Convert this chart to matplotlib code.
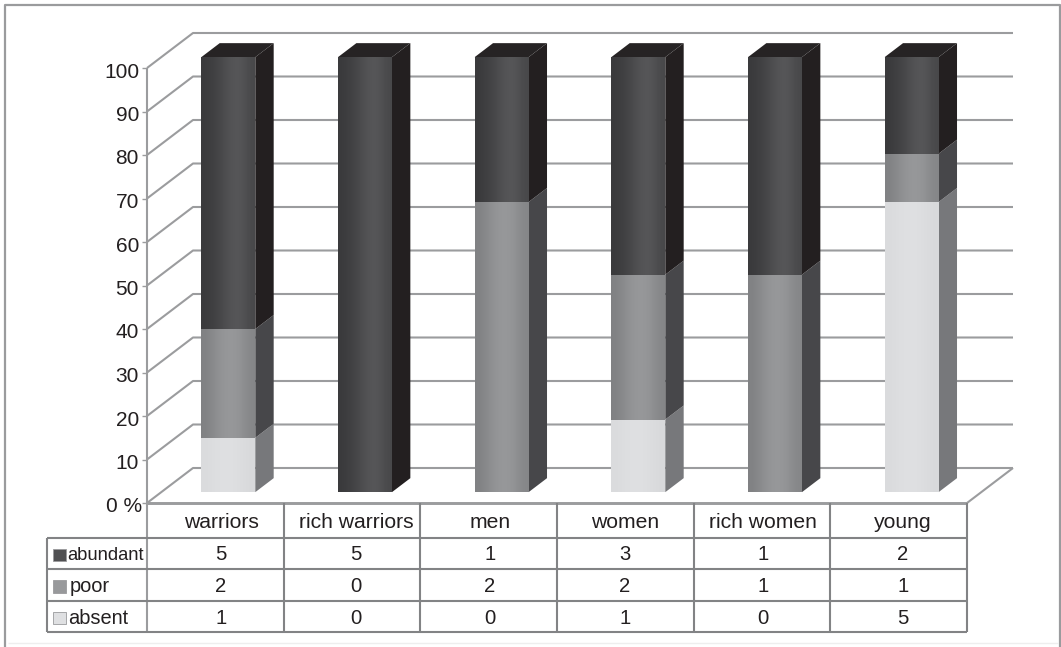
import numpy as np
import matplotlib
matplotlib.use("Agg")
import matplotlib.pyplot as plt
from matplotlib.colors import to_rgb
from matplotlib.patches import Polygon
from matplotlib.transforms import Affine2D

plt.rcParams['font.family'] = ['Liberation Sans', 'DejaVu Sans']

# ---- data ----
categories = ['warriors', 'rich warriors', 'men', 'women', 'rich women', 'young']
series_names = ['abundant', 'poor', 'absent']
table_abundant = [5, 5, 1, 3, 1, 2]
table_poor = [2, 0, 2, 2, 1, 1]
table_absent = [1, 0, 0, 1, 0, 5]
# bar heights (percent)
pct_absent = [12.5, 0, 0, 16.7, 0, 66.7]
pct_poor = [25.0, 0, 66.7, 33.3, 50.0, 11.1]
pct_abundant = [62.5, 100.0, 33.3, 50.0, 50.0, 22.2]
y_ticks = [0, 10, 20, 30, 40, 50, 60, 70, 80, 90, 100]

# ---- style ----
W, H = 1061, 647
INK = '#231f20'
GRID = '#9b9c9e'
TABLE = '#828385'
front_stops = {
    'abundant': ['#3a3a3c', '#444446', '#505052', '#5a5a5c', '#48484a'],
    'poor': ['#808183', '#8f9092', '#98999b', '#959698', '#858688'],
    'absent': ['#dadbdd', '#dedfe1', '#dfe0e2', '#dddee0', '#d8d9db'],
}
side_col = {'abundant': '#231f20', 'poor': '#47474a', 'absent': '#77787b'}
top_col = {'abundant': '#262324', 'poor': '#5c5c5e', 'absent': '#b0b1b3'}

fig = plt.figure(figsize=(W / 100, H / 100), dpi=100, facecolor='white')
L, R, B, T = 147, 967, 503, 68
ax = fig.add_axes([L / W, 1 - B / H, (R - L) / W, (B - T) / H])
ax.set_xlim(0, 6)
ax.set_ylim(0, 100)
ax.axis('off')

DX, DY = 46.0, 35.0  # screen offset of the full chart depth
ux = DX * 6 / (R - L)
uy = DY * 100 / (B - T)


def proj(x, y, f):
    """data position at depth fraction f"""
    return (x + f * ux, y + f * uy)


LW = 1.5
kw = dict(clip_on=False, solid_capstyle='butt')

# back wall & left wall gridlines, floor
for v in y_ticks:
    p0, p1, p2 = proj(0, v, 0), proj(0, v, 1), proj(6, v, 1)
    ax.plot([p0[0], p1[0], p2[0]], [p0[1], p1[1], p2[1]], color=GRID, lw=LW, zorder=1, **kw)
pr0, pr1 = proj(6, 0, 0), proj(6, 0, 1)
ax.plot([pr0[0], pr1[0]], [pr0[1], pr1[1]], color=GRID, lw=LW, zorder=1, **kw)
ax.plot([0, 6], [0, 0], color=GRID, lw=LW + 0.4, zorder=1, **kw)

# bars
F0, F1 = 0.31, 0.71
BW = 0.395
xs = np.arange(len(categories)) + 0.5 - 0.0095
bottom = np.zeros(len(categories))
stack = [('absent', pct_absent), ('poor', pct_poor), ('abundant', pct_abundant)]
tops = np.sum([s[1] for s in stack], axis=0)
for name, vals in stack:
    vals = np.array(vals, dtype=float)
    for i, (x, v, b) in enumerate(zip(xs, vals, bottom)):
        if v <= 0:
            continue
        x0, x1 = x - BW / 2, x + BW / 2
        cx = proj(x, 0, F0)[0]
        by = proj(0, b, F0)[1]
        rect = ax.bar(cx, v, width=BW, bottom=by, color=front_stops[name][1],
                      linewidth=0, zorder=4)[0]
        grad = np.array([to_rgb(c) for c in front_stops[name]])[None, :, :]
        e = (cx - BW / 2, cx + BW / 2, by, by + v)
        im = ax.imshow(grad, extent=e, aspect='auto', interpolation='bicubic',
                       origin='lower', zorder=4.1)
        im.set_clip_path(rect)
        side = [proj(x1, b, F0), proj(x1, b, F1), proj(x1, b + v, F1), proj(x1, b + v, F0)]
        ax.add_patch(Polygon(side, closed=True, fc=side_col[name], ec='none', zorder=3.5, clip_on=False))
        if abs(b + v - tops[i]) < 0.01:
            top = [proj(x0, b + v, F0), proj(x1, b + v, F0), proj(x1, b + v, F1), proj(x0, b + v, F1)]
            ax.add_patch(Polygon(top, closed=True, fc=top_col[name], ec='none', zorder=3.5, clip_on=False))
    bottom = bottom + vals
ax.set_xlim(0, 6)
ax.set_ylim(0, 100)

# ---- layout elements placed in figure pixels ----
px = Affine2D().scale(1, -1).translate(0, H)


def line(xv, yv, color=TABLE, lw=LW, z=6):
    ln = plt.Line2D(xv, yv, transform=px, color=color, lw=lw, zorder=z, solid_capstyle='butt')
    fig.add_artist(ln)


def text(x, y, s, ha='center', size=14.6):
    fig.text(x, y, s, transform=px, ha=ha, va='center_baseline', fontsize=size, color=INK, zorder=7)


# outer frame
line([5, 5, 1060, 1060], [647, 5, 5, 647], color='#9a9b9d', lw=1.6)
line([8, 1058], [643, 643], color='#eeeeee', lw=1.0)

# value axis
line([L, L], [T, 632], color=GRID, lw=LW)
for v in y_ticks:
    py = B - v / 100 * (B - T)
    line([142, L], [py, py], color=GRID, lw=1.0)
    if v == 0:
        text(142, py + 2, '0 %', ha='right', size=15)
    else:
        text(139, py + 2, str(v), ha='right', size=15)

# data table
col_x = [L + (R - L) * i / 6 for i in range(7)]
row_y = [503, 538, 569, 601, 632]
for y in row_y[1:]:
    line([47, R], [y, y])
line([L, R], [row_y[0], row_y[0]], color=GRID, lw=LW + 0.4)
line([47, 47], [row_y[1], row_y[4]])
for x in col_x[1:]:
    line([x, x], [row_y[0], row_y[4]])

rows = [table_abundant, table_poor, table_absent]
label_x = [67, 70, 68]
label_size = [13.2, 14.4, 14.4]
col_text_x = [221, 356, 490, 625, 763, 903]
for j, c in enumerate(categories):
    text(col_text_x[j], (row_y[0] + row_y[1]) / 2 + 0.5, c, size=15.2)
    for r, row in enumerate(rows):
        text(col_text_x[j], (row_y[r + 1] + row_y[r + 2]) / 2 - 0.5, str(row[j]))

# legend keys in the table
sw_size = 12.5
for r, name in enumerate(series_names):
    yc = (row_y[r + 1] + row_y[r + 2]) / 2 + 1.5
    fig.add_artist(plt.Rectangle((53, yc - sw_size / 2), sw_size, sw_size, transform=px,
                                 fc=front_stops[name][2], ec='#9a9b9d', lw=0.6, zorder=6))
    text(label_x[r], yc - 1.5, name, ha='left', size=label_size[r])

fig.savefig('out.png', dpi=100, facecolor='white')
